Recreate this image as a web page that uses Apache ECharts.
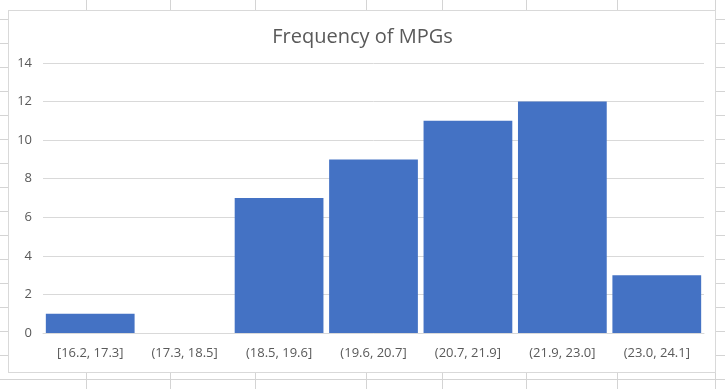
<!DOCTYPE html>
<html>
<head>
<meta charset="utf-8">
<script src="https://cdn.jsdelivr.net/npm/echarts@6/dist/echarts.min.js"></script>
<style>
  html, body { margin: 0; padding: 0; background: #ffffff; }
  #sheet { position: absolute; left: 0; top: 0; width: 725px; height: 389px; overflow: hidden; }
  .vl { position: absolute; top: 0; width: 1px; height: 389px; background: #d4d4d4; }
  .hl { position: absolute; left: 0; height: 1px; width: 725px; background: #d4d4d4; }
  #box { position: absolute; left: 8px; top: 10px; width: 708px; height: 363px; box-sizing: border-box;
         border: 1px solid #d9d9d9; background: #ffffff; }
  #chart { position: absolute; left: 0; top: 0; width: 725px; height: 389px; }
</style>
</head>
<body>
<div id="sheet"></div>
<div id="box"></div>
<div id="chart"></div>
<script>
const categories = ['[16.2, 17.3]', '(17.3, 18.5]', '(18.5, 19.6]', '(19.6, 20.7]', '(20.7, 21.9]', '(21.9, 23.0]', '(23.0, 24.1]'];
const frequencies = [1, 0, 7, 9, 11, 12, 3];
const chartTitle = 'Frequency of MPGs';

// spreadsheet cell grid (decoration behind the chart)
const sheetCols = [86, 170, 255, 366, 442, 526, 617, 715];
const sheetRows = [19, 43, 67, 91, 115, 139, 163, 187, 211, 235, 259, 283, 307, 331, 355, 379];
const sheet = document.getElementById('sheet');
sheetCols.forEach(x => { const d = document.createElement('div'); d.className = 'vl'; d.style.left = x + 'px'; sheet.appendChild(d); });
sheetRows.forEach(y => { const d = document.createElement('div'); d.className = 'hl'; d.style.top = y + 'px'; sheet.appendChild(d); });

const chart = echarts.init(document.getElementById('chart'), null, { renderer: 'canvas' });
chart.setOption({
  backgroundColor: 'transparent',
  animation: false,
  title: {
    text: chartTitle,
    left: 'center',
    top: 22,
    textStyle: { fontFamily: 'Open Sans', fontSize: 20, fontWeight: 'normal', color: '#595959' }
  },
  grid: { left: 43, right: 21, top: 63, bottom: 56, containLabel: false },
  xAxis: {
    type: 'category',
    data: categories,
    axisLine: { show: true, lineStyle: { color: '#d9d9d9', width: 1 } },
    axisTick: { show: false },
    axisLabel: { fontFamily: 'Open Sans', fontSize: 13, color: '#595959', margin: 14, interval: 0 }
  },
  yAxis: {
    type: 'value',
    min: 0, max: 14, interval: 2,
    axisLine: { show: false },
    axisTick: { show: false },
    splitLine: { lineStyle: { color: '#d9d9d9', width: 1 } },
    axisLabel: { fontFamily: 'Open Sans', fontSize: 13, color: '#595959', margin: 11 }
  },
  series: [{
    type: 'bar',
    data: frequencies,
    barCategoryGap: '6%',
    itemStyle: { color: '#4472C4' }
  }]
});
</script>
</body>
</html>
